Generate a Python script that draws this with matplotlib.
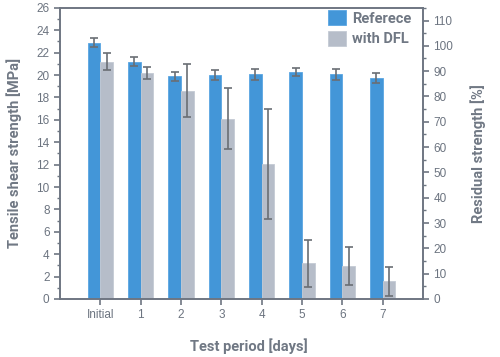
import numpy as np
import matplotlib.pyplot as plt
from matplotlib.ticker import MultipleLocator

periods = ['Initial', '1', '2', '3', '4', '5', '6', '7']
ref_mean = [22.9, 21.2, 19.9, 20.0, 20.05, 20.25, 20.05, 19.75]
ref_err = [0.4, 0.4, 0.4, 0.45, 0.45, 0.35, 0.45, 0.45]
dfl_mean = [21.2, 20.2, 18.6, 16.1, 12.05, 3.2, 2.95, 1.6]
dfl_err = [0.75, 0.55, 2.35, 2.7, 4.95, 2.1, 1.7, 1.3]

blue = '#4396d8'
grey = '#b6bdc9'
txt = '#6c7480'
labtxt = '#707884'
spine = '#6e7682'

plt.rcParams['font.family'] = ['Liberation Sans', 'DejaVu Sans']

fig = plt.figure(figsize=(5, 3.57), dpi=100)
ax = fig.add_axes([0.12, 0.1625, 0.726, 0.8155])

x = np.arange(len(periods))
w = 0.31
ekw = dict(ecolor='#6a6e74', elinewidth=1.2, capsize=3, capthick=1.2)
ax.bar(x - w / 2, ref_mean, w, yerr=ref_err, color=blue, edgecolor='#5aa6e2',
       linewidth=0.6, error_kw=ekw, label='Referece', zorder=2)
ax.bar(x + w / 2, dfl_mean, w, yerr=dfl_err, color=grey, edgecolor='#c4cad4',
       linewidth=0.6, error_kw=ekw, label='with DFL', zorder=2)

ax.set_xlim(-1, 8)
ax.set_ylim(0, 26)
ax.set_xticks(x)
ax.set_xticklabels(periods)
ax.yaxis.set_major_locator(MultipleLocator(2))
ax.yaxis.set_minor_locator(MultipleLocator(1))

ax2 = ax.twinx()
ax2.set_ylim(0, 115)
ax2.yaxis.set_major_locator(MultipleLocator(10))
ax2.yaxis.set_minor_locator(MultipleLocator(5))
ax2.set_yticks(np.arange(0, 111, 10))

for a in (ax, ax2):
    for s in a.spines.values():
        s.set_color(spine)
        s.set_linewidth(1.2)
    a.tick_params(which='both', colors=spine, labelcolor=txt, labelsize=8.5, direction='out')
    a.tick_params(which='major', length=4, width=1.2)
    a.tick_params(which='minor', length=2.5, width=1)

lab = dict(fontsize=10.5, color=labtxt, fontweight='bold', family=['Roboto', 'DejaVu Sans'])
ax.set_ylabel('Tensile shear strength [MPa]', **lab)
ax.set_xlabel('Test period [days]', **lab)
ax2.set_ylabel('Residual strength [%]', **lab)
ax.yaxis.set_label_coords(-0.105, 0.5)
ax.xaxis.set_label_coords(0.52, -0.135)
ax2.yaxis.set_label_coords(1.13, 0.5)

leg = ax.legend(loc='upper right', bbox_to_anchor=(0.968, 0.992), frameon=False,
                handlelength=1.25, handleheight=1.2, handletextpad=0.4,
                labelspacing=0.35, borderaxespad=0.0, borderpad=0.0,
                prop={'family': ['Roboto', 'DejaVu Sans'], 'weight': 'bold', 'size': 10.5})
for t in leg.get_texts():
    t.set_color(labtxt)

fig.savefig('out.png', dpi=100)
